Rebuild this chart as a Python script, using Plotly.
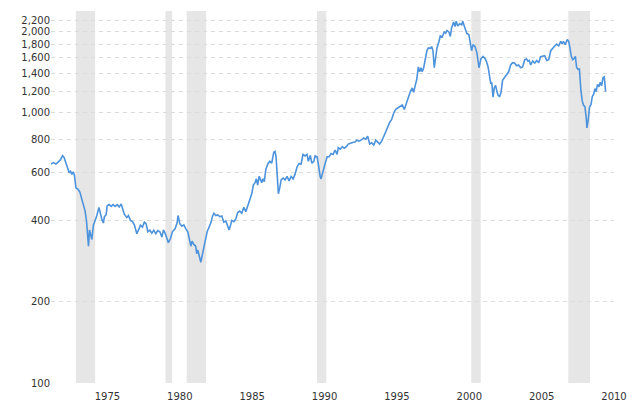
import plotly.graph_objects as go

years = [1971.09,1971.27,1971.44,1971.60,1971.75,1971.90,1972.00,1972.13,1972.27,1972.36,1972.45,1972.54,1972.63,1972.72,1972.82,1972.96,
1973.10,1973.23,1973.37,1973.46,1973.55,1973.62,1973.69,1973.76,1973.85,1973.92,1974.03,1974.15,1974.27,1974.41,1974.50,1974.61,1974.72,1974.79,1974.91,1974.98,
1975.12,1975.26,1975.39,1975.53,1975.67,1975.81,1975.95,1976.04,1976.17,1976.34,1976.45,1976.59,1976.73,1976.86,1977.03,1977.14,1977.28,1977.42,1977.55,1977.67,1977.79,1977.93,
1978.07,1978.20,1978.34,1978.48,1978.62,1978.76,1978.87,1978.98,1979.12,1979.21,1979.35,1979.49,1979.68,1979.81,1979.88,1980.00,1980.14,1980.28,1980.41,1980.55,1980.66,1980.76,1980.85,1980.97,
1981.10,1981.17,1981.24,1981.35,1981.45,1981.56,1981.64,1981.78,1981.89,1982.02,1982.14,1982.25,1982.35,1982.49,1982.62,1982.76,1982.90,1983.04,1983.18,1983.29,1983.40,1983.49,1983.59,1983.73,1983.87,
1984.00,1984.14,1984.28,1984.42,1984.56,1984.69,1984.83,1984.97,1985.08,1985.20,1985.29,1985.38,1985.48,1985.57,1985.66,1985.75,1985.84,1985.94,1986.08,1986.22,1986.35,1986.49,1986.58,1986.65,1986.72,1986.81,1986.91,
1987.00,1987.14,1987.27,1987.41,1987.55,1987.69,1987.83,1987.96,1988.10,1988.24,1988.38,1988.51,1988.65,1988.79,1988.88,1989.02,1989.12,1989.26,1989.35,1989.49,1989.58,1989.70,1989.76,1989.90,
1990.04,1990.18,1990.32,1990.45,1990.59,1990.73,1990.87,1990.95,1991.09,1991.23,1991.37,1991.50,1991.64,1991.88,1992.10,1992.24,1992.38,1992.57,1992.71,1992.85,1992.98,1993.12,1993.26,1993.40,1993.54,1993.67,1993.81,1993.95,
1994.09,1994.22,1994.36,1994.50,1994.64,1994.78,1994.92,1995.10,1995.28,1995.37,1995.51,1995.65,1995.79,1995.93,1996.06,1996.16,1996.25,1996.37,1996.48,1996.57,1996.66,1996.75,1996.85,1996.94,
1997.08,1997.17,1997.31,1997.40,1997.49,1997.58,1997.68,1997.77,1997.91,1998.00,1998.13,1998.27,1998.37,1998.46,1998.60,1998.69,1998.78,1998.92,1999.01,1999.10,1999.20,1999.34,1999.48,1999.55,1999.69,1999.83,1999.97,
2000.07,2000.16,2000.26,2000.40,2000.53,2000.67,2000.81,2000.95,2001.09,2001.20,2001.30,2001.38,2001.48,2001.56,2001.64,2001.73,2001.82,2001.91,2002.00,2002.10,2002.20,2002.30,2002.44,2002.58,2002.72,2002.86,2002.99,
2003.13,2003.27,2003.41,2003.55,2003.69,2003.83,2003.96,2004.05,2004.14,2004.24,2004.38,2004.52,2004.66,2004.80,2004.93,2005.07,2005.21,2005.35,2005.49,2005.63,2005.76,2005.90,2006.04,2006.18,2006.32,2006.41,2006.50,2006.63,2006.77,2006.87,2006.96,
2007.05,2007.15,2007.24,2007.33,2007.42,2007.52,2007.61,2007.71,2007.80,2007.89,2007.99,2008.08,2008.13,2008.22,2008.31,2008.41,2008.50,2008.59,2008.68,2008.77,2008.86,2008.96,2009.05,2009.14,2009.24,2009.33,2009.42]

values = [647,655,647,662,670,695,685,652,620,600,608,592,605,588,528,522,
508,476,451,432,399,363,321,369,355,340,384,398,417,447,421,405,391,413,420,453,
458,451,458,451,458,449,460,444,421,410,417,400,396,385,357,368,384,378,394,389,363,368,
359,368,357,367,363,347,369,359,342,331,342,363,373,391,417,389,381,385,373,363,342,321,335,326,
321,301,311,291,280,299,318,341,363,378,391,413,425,417,419,413,415,394,398,384,369,381,400,396,405,
428,433,425,447,431,451,476,502,541,552,570,541,582,565,552,570,557,617,647,662,652,714,720,688,570,502,530,
565,574,565,582,560,582,570,592,631,650,646,702,693,702,662,697,652,662,693,688,631,582,570,617,
650,688,688,707,702,729,702,744,734,750,740,750,767,775,780,793,786,796,808,800,820,767,775,761,793,780,767,786,
818,850,888,923,946,1000,1032,1047,1057,1070,1030,1085,1142,1200,1237,1193,1255,1330,1480,1420,1470,1420,1470,1544,
1706,1740,1735,1760,1706,1470,1590,1740,1842,1930,1910,1995,1975,2020,1990,1920,2070,2170,2090,2185,2100,2140,2120,2185,2070,1970,1950,
1840,1700,1790,1760,1670,1470,1590,1620,1590,1545,1480,1400,1290,1290,1145,1240,1265,1200,1160,1150,1195,1320,1350,1375,1420,1505,1535,
1530,1495,1505,1470,1480,1575,1585,1555,1565,1505,1555,1530,1565,1535,1615,1620,1630,1565,1575,1700,1740,1770,1800,1770,1842,1800,1840,1790,1870,1840,1735,
1620,1575,1590,1620,1470,1450,1455,1220,1110,1070,1055,960,880,945,1050,1075,1150,1170,1230,1200,1275,1250,1300,1260,1350,1360,1200]

recession_start = [1972.82, 1979.01, 1980.48, 1989.48, 2000.14, 2006.84]
recession_end = [1974.15, 1979.47, 1981.82, 1990.12, 2000.79, 2008.34]

x_ticks = [1975, 1980, 1985, 1990, 1995, 2000, 2005, 2010]
y_ticks = [100, 200, 400, 600, 800, 1000, 1200, 1400, 1600, 1800, 2000, 2200]

fig = go.Figure()
fig.add_trace(go.Scatter(x=years, y=values, mode="lines",
                         line=dict(color="#4d93dc", width=1.6), hoverinfo="skip"))

for s, e in zip(recession_start, recession_end):
    fig.add_shape(type="rect", xref="x", yref="paper", x0=s, x1=e, y0=0, y1=1,
                  fillcolor="#e6e6e6", line=dict(width=0), layer="below")

fig.update_layout(
    width=640, height=404,
    margin=dict(l=51, r=26, t=11, b=21),
    paper_bgcolor="white", plot_bgcolor="rgba(0,0,0,0)",
    showlegend=False,
    font=dict(family="DejaVu Sans", size=10, color="#333333"),
)
fig.update_xaxes(range=[1971.1, 2010.0], tickvals=x_ticks, ticktext=[str(t) for t in x_ticks],
                 showgrid=False, zeroline=False, showline=False, ticks="", ticklen=0,
                 automargin=False, ticklabelstandoff=6,
                 tickfont=dict(size=10, color="#333333"))
fig.update_yaxes(type="log", range=[2, 3.3775], tickvals=y_ticks,
                 ticktext=[f"{t:,}" for t in y_ticks],
                 showgrid=True, gridcolor="#dcdcdc", griddash="4px,4px", gridwidth=1,
                 zeroline=False, showline=False, ticks="", automargin=False,
                 tickfont=dict(size=10, color="#333333"))

fig.write_html("out.html")
